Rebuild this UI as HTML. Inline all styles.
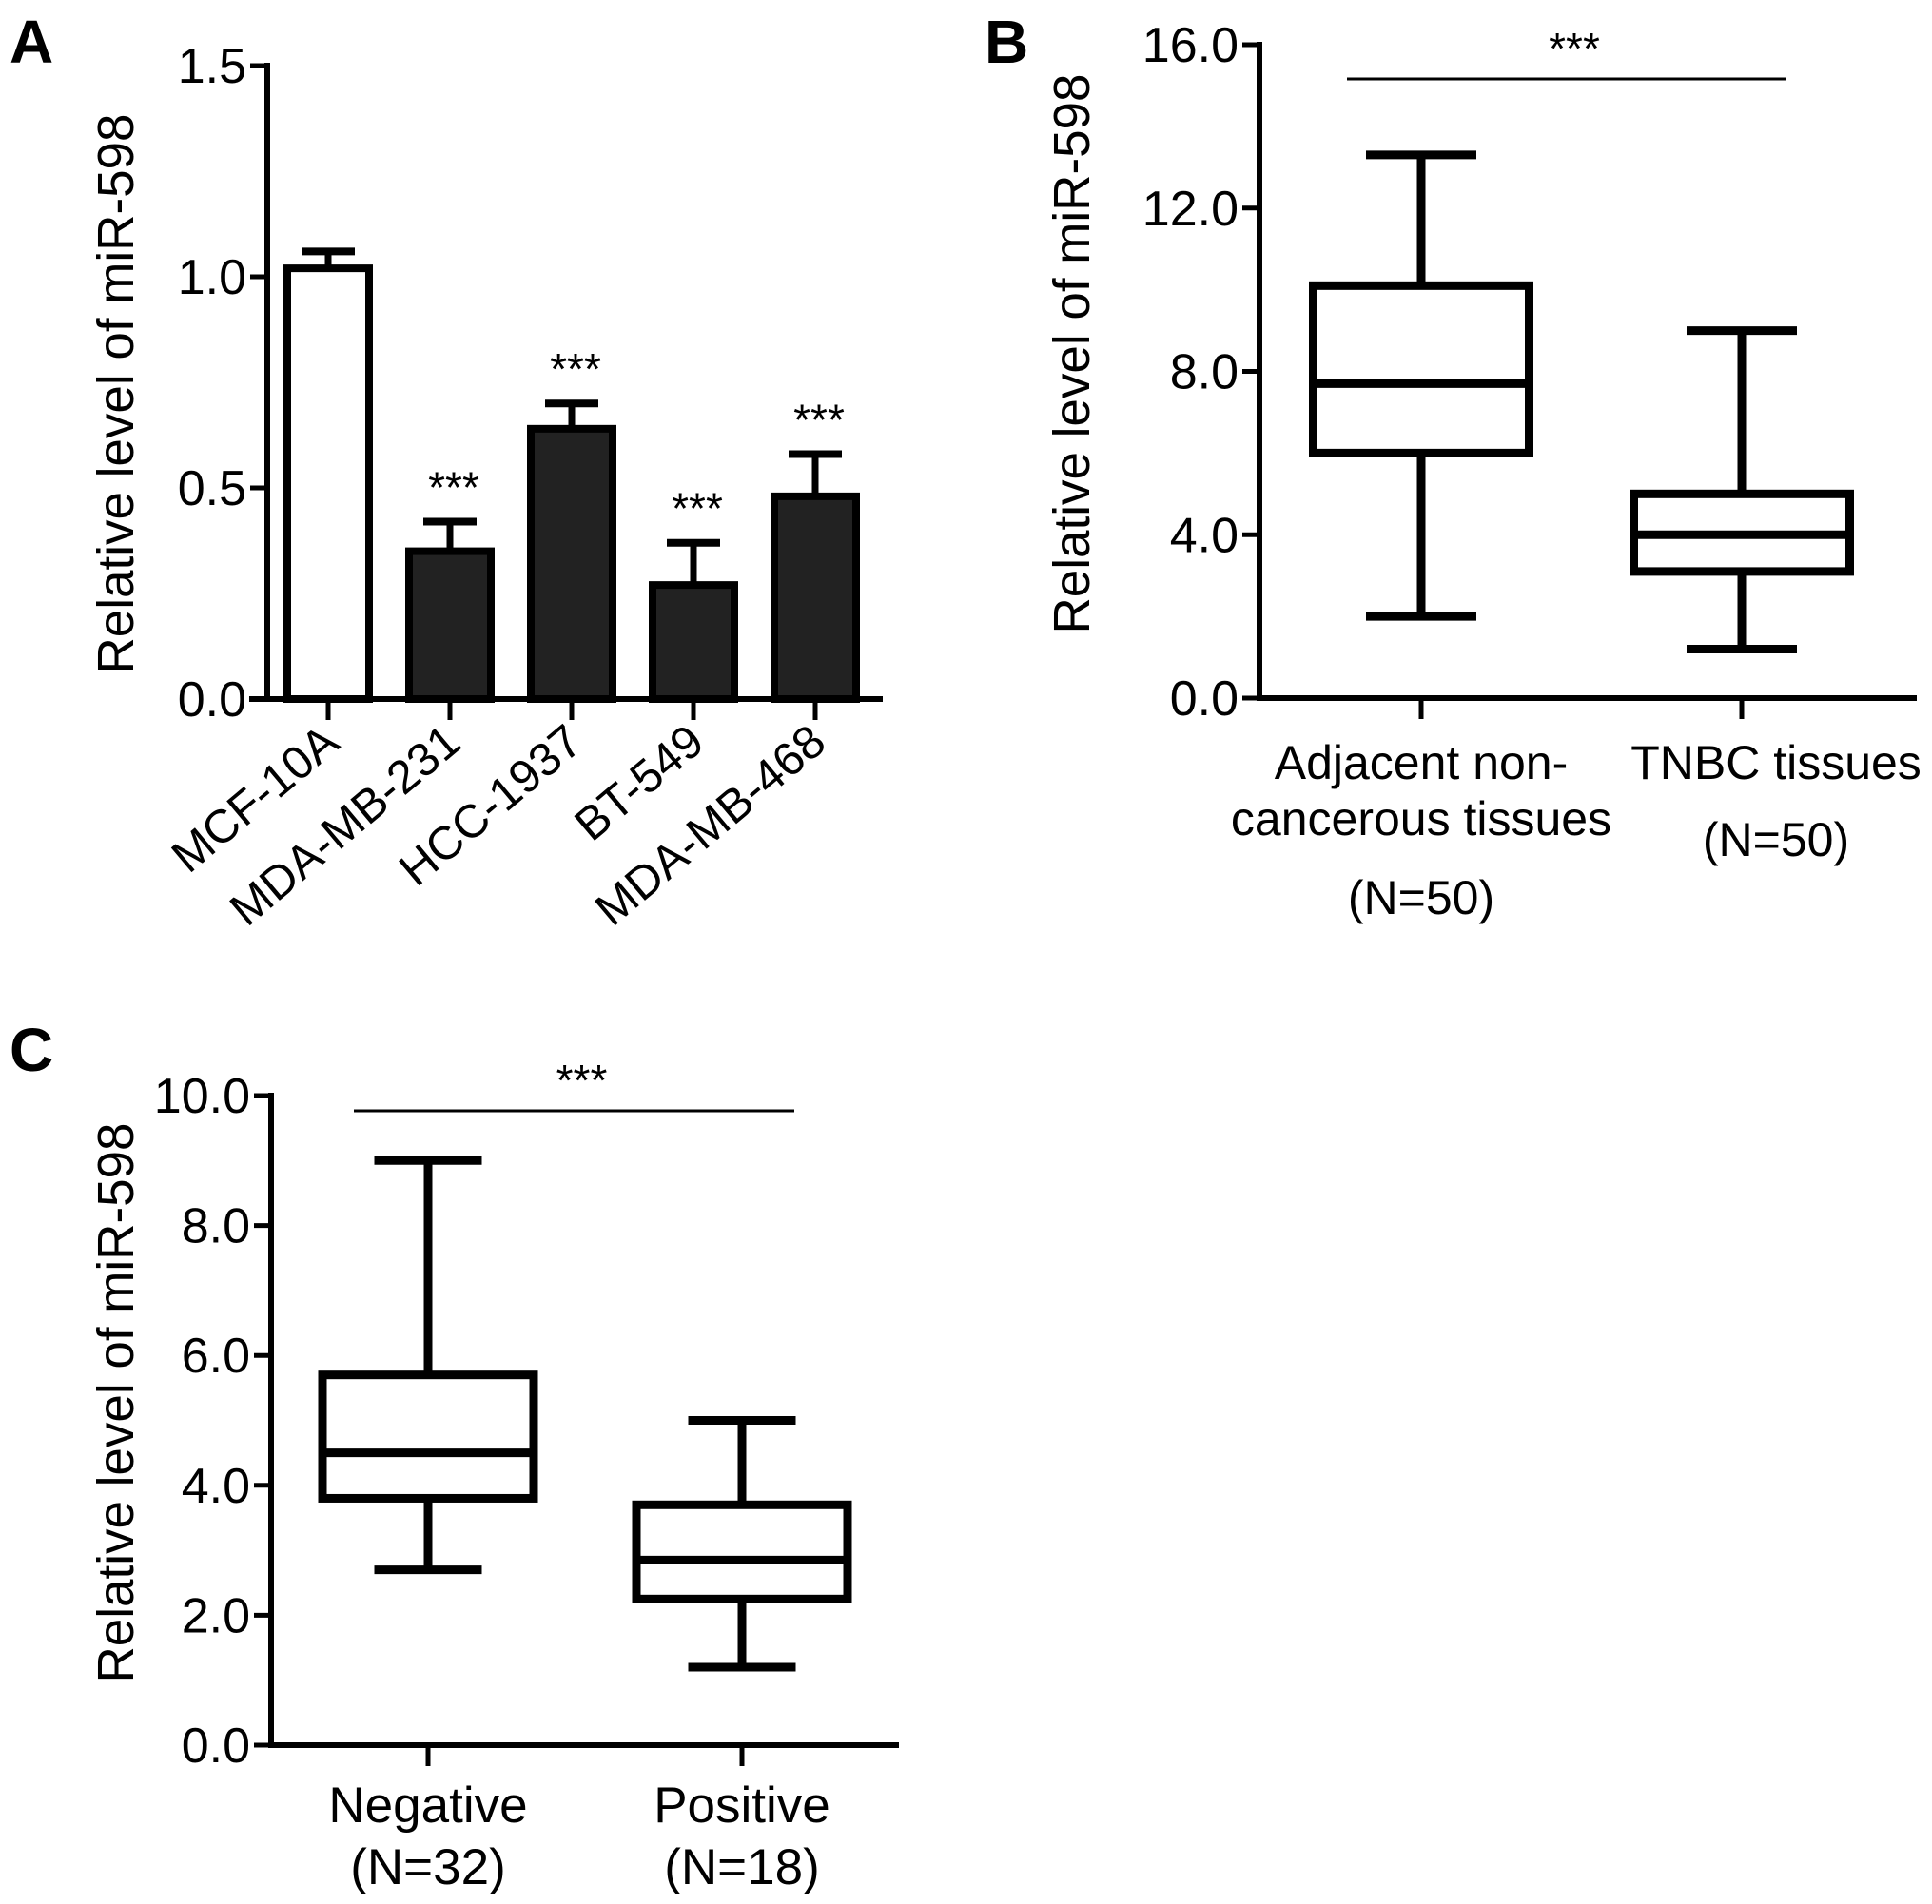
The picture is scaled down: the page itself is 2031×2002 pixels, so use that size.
<!DOCTYPE html>
<html><head><meta charset="utf-8">
<style>
html,body{margin:0;padding:0;background:#fff;}
svg{display:block;font-family:"Liberation Sans",Arial,sans-serif;}
</style></head>
<body>
<svg id="fig" width="2031" height="2002" viewBox="0 0 2031 2002" xmlns="http://www.w3.org/2000/svg">
<text x="10" y="66" font-size="64" font-weight="bold">A</text>
<text x="1035" y="66" font-size="64" font-weight="bold">B</text>
<text x="10" y="1126" font-size="64" font-weight="bold">C</text>
</svg>
<script>
const aCategories = ["MCF-10A","MDA-MB-231","HCC-1937","BT-549","MDA-MB-468"];
const aValues = [1.02,0.35,0.64,0.27,0.48];
const aErrors = [0.04,0.07,0.06,0.10,0.10];
const aTicks = [0,0.5,1.0,1.5];
const aTickLabels = ["0.0","0.5","1.0","1.5"];
const aSig = ["","***","***","***","***"];

const bCategories = [["Adjacent non-","cancerous tissues","(N=50)"],["TNBC tissues","(N=50)"]];
const bMin = [2.0,1.2];
const bQ1 = [6.0,3.1];
const bMed = [7.7,4.0];
const bQ3 = [10.1,5.0];
const bMax = [13.3,9.0];
const bTicks = [0,4,8,12,16];
const bTickLabels = ["0.0","4.0","8.0","12.0","16.0"];

const cCategories = [["Negative","(N=32)"],["Positive","(N=18)"]];
const cMin = [2.7,1.2];
const cQ1 = [3.8,2.25];
const cMed = [4.5,2.85];
const cQ3 = [5.7,3.7];
const cMax = [9.0,5.0];
const cTicks = [0,2,4,6,8,10];
const cTickLabels = ["0.0","2.0","4.0","6.0","8.0","10.0"];

const svg = document.getElementById('fig');
const NS = "http://www.w3.org/2000/svg";
function mk(tag, attrs, parent){
  const e = document.createElementNS(NS, tag);
  for (const k in attrs) e.setAttribute(k, attrs[k]);
  (parent||svg).appendChild(e);
  return e;
}
function line(p,x1,y1,x2,y2,w){ return mk('line',{x1,y1,x2,y2,stroke:'#000','stroke-width':w,'stroke-linecap':'butt'},p); }
function txt(p,x,y,s,size,anchor,extra){
  const t = mk('text',Object.assign({x,y,'font-size':size,'text-anchor':anchor||'middle',fill:'#000'},extra||{}),p);
  t.textContent = s; return t;
}

function yAxis(g, axX, y, ticks, labels, y0, y1, titleX, titleY){
  const ax = line(g, axX, y1-3, axX, y0+3, 6);
  
  
  ticks.forEach((v,i)=>{
    const tk = line(g, axX-18, y(v), axX, y(v), 5);
    
    
    const tl = txt(g, axX-22, y(v)+18, labels[i], 52, 'end');
    
    
  });
  const t = txt(g, titleX, titleY, "Relative level of miR-598", 54, 'middle', {transform:`rotate(-90 ${titleX} ${titleY})`, textLength:589, lengthAdjust:'spacingAndGlyphs'});
  
  
}

/* Panel A */
(function(){
  const g = mk('g',{});
  
  
  const y0 = 735, yTop = 69, vmax = 1.5;
  const y = v => y0 - (v/vmax)*(y0-yTop);
  const x = i => 345 + i*128;
  const bw = 86;
  yAxis(g, 281, y, aTicks, aTickLabels, y0, yTop, 140, 414);
  const xa = line(g, 262, y0, 928, y0, 6);
  
  
  aCategories.forEach((c,i)=>{
    const cx = x(i);
    const eb = line(g, cx, y(aValues[i]), cx, y(aValues[i]+aErrors[i]), 7);
    
    
    const cap = line(g, cx-28, y(aValues[i]+aErrors[i]), cx+28, y(aValues[i]+aErrors[i]), 8);
    
    
    const r = mk('rect',{x:cx-bw/2, y:y(aValues[i]), width:bw, height:y0-y(aValues[i]), fill: i===0?'#fff':'#222', stroke:'#000','stroke-width':8},g);
    
    
    const tk = line(g, cx, y0, cx, y0+22, 5);
    
    
    const lx = cx+14, ly = y0+50;
    const lb = txt(g, lx, ly, c, 49, 'end', {transform:`rotate(-40 ${lx} ${ly})`});
    
    
    if (aSig[i]) {
      const s = txt(g, cx+4, y(aValues[i]+aErrors[i])-20, aSig[i], 46, 'middle');
      
      
    }
  });
})();

function boxPanel(name, cfg){
  const g = mk('g',{});
  
  
  const y = v => cfg.y0 - (v/cfg.vmax)*(cfg.y0-cfg.yTop);
  const x = i => cfg.x0 + i*cfg.dx;
  yAxis(g, cfg.axX, y, cfg.ticks, cfg.tickLabels, cfg.y0, cfg.yTop, cfg.titleX, cfg.titleY);
  const xa = line(g, cfg.axX-3, cfg.y0, cfg.axEnd, cfg.y0, 6);
  
  
  cfg.cats.forEach((c,i)=>{
    const cx = x(i), hw = cfg.boxW/2, cw = cfg.capW/2;
    const w1 = line(g, cx, y(cfg.mx[i]), cx, y(cfg.q3[i]), 9);
    
    
    const w2 = line(g, cx, y(cfg.q1[i]), cx, y(cfg.mn[i]), 9);
    
    
    const c1 = line(g, cx-cw, y(cfg.mx[i]), cx+cw, y(cfg.mx[i]), 9);
    
    
    const c2 = line(g, cx-cw, y(cfg.mn[i]), cx+cw, y(cfg.mn[i]), 9);
    
    
    const r = mk('rect',{x:cx-hw, y:y(cfg.q3[i]), width:cfg.boxW, height:y(cfg.q1[i])-y(cfg.q3[i]), fill:'#fff', stroke:'#000','stroke-width':9},g);
    
    
    const md = line(g, cx-hw, y(cfg.med[i]), cx+hw, y(cfg.med[i]), 9);
    
    
    const tk = line(g, cx, cfg.y0, cx, cfg.y0+22, 5);
    
    
    c.forEach((s,j)=>{
      const t = txt(g, cx + cfg.labDx[i], cfg.labY[i][j], s, cfg.labSize, 'middle');
      
      
    });
  });
  const sl = line(g, cfg.sig[0], cfg.sig[2], cfg.sig[1], cfg.sig[2], 3);
  
  
  const st = txt(g, (cfg.sig[0]+cfg.sig[1])/2 + 8, cfg.sig[2]-16, "***", 46, 'middle');
  
  
}

boxPanel('panel-b-box-plot', {
  y0:734, yTop:47, vmax:16, axX:1324, axEnd:2015, x0:1494, dx:337, boxW:227, capW:116,
  ticks:bTicks, tickLabels:bTickLabels, titleX:1145, titleY:372,
  cats:bCategories, mn:bMin, q1:bQ1, med:bMed, q3:bQ3, mx:bMax,
  labY:[[819,878,961],[819,900]], labDx:[0,36], labSize:50, sig:[1416,1878,83]
});
boxPanel('panel-c-box-plot', {
  y0:1835, yTop:1152, vmax:10, axX:285, axEnd:945, x0:450, dx:330, boxW:222, capW:113,
  ticks:cTicks, tickLabels:cTickLabels, titleX:140, titleY:1475,
  cats:cCategories, mn:cMin, q1:cQ1, med:cMed, q3:cQ3, mx:cMax,
  labY:[[1916,1981],[1916,1981]], labDx:[0,0], labSize:53, sig:[372,835,1168]
});
</script>
</body></html>
